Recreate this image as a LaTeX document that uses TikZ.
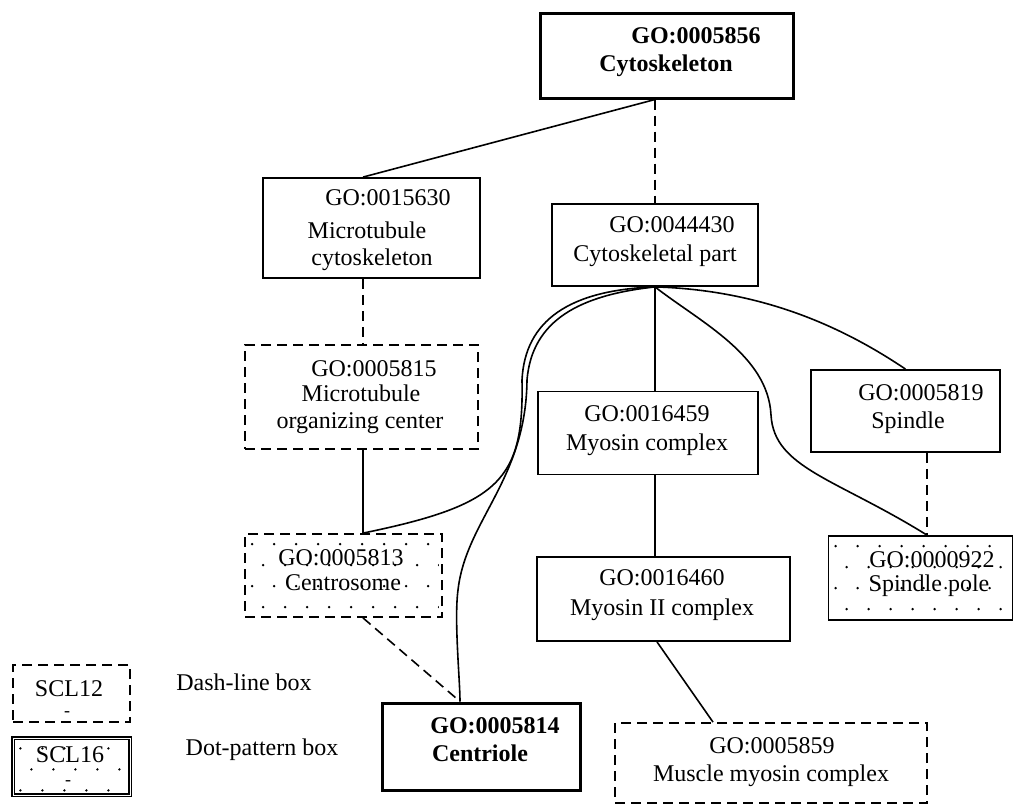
\documentclass[tikz,border=0pt]{standalone}
\usepackage{fontspec}
\setmainfont{Liberation Serif}
\usetikzlibrary{calc}
\begin{document}
\begin{tikzpicture}[x=1pt,y=-1pt,
  box/.style={draw, line width=1.8pt, rectangle, inner sep=0pt, fill=white},
  sz/.style 2 args={minimum width=#1pt, minimum height=#2pt},
  thickbox/.style={box, line width=3pt},
  dashbox/.style={box, dash pattern=on 10pt off 6pt},
  txt/.style={inner sep=0pt, anchor=base, font=\fontsize{24}{28}\selectfont},
  btxt/.style={inner sep=0pt, anchor=base, font=\fontsize{24}{28}\selectfont\bfseries},
  link/.style={line width=1.6pt},
  dlink/.style={line width=1.6pt, dash pattern=on 10pt off 6pt}]
\useasboundingbox (0,0) rectangle (1015,806);

% boxes
\node[thickbox, sz={253}{85}] (cs)   at (666.5,55.5) {};
\node[box,      sz={217}{100}] (mt)  at (371.5,228) {};
\node[box,      sz={206}{82}] (cp)   at (655,245) {};
\node[dashbox,  sz={233}{104}] (moc) at (361.5,397) {};
\node[box,      sz={220}{83}] (myo)  at (648,433) {};
\node[box,      sz={189}{82}] (sp)   at (905.5,411) {};
\node[dashbox,  sz={197}{83}] (cen)  at (343.5,575.5) {};
\node[box,      sz={253}{84}] (myo2) at (663.5,599) {};
\node[box,      sz={184}{84}] (spp)  at (920.5,578) {};
\node[thickbox, sz={198}{87}] (ctr)  at (481,746.5) {};
\node[dashbox,  sz={312}{80}] (mm)   at (771,763) {};
\node[dashbox,  sz={117}{57}] (l1)   at (71.5,693.5) {};
\node[box, line width=1.2pt, double, double distance=1pt, sz={117}{57}] (l2) at (71.5,766.5) {};

% connectors
\draw[link]  ([xshift=-11.5pt]cs.south) -- ([xshift=-8.5pt]mt.north);
\draw[dlink] ([xshift=-11.5pt]cs.south) -- (cp.north);
\draw[dlink] ([xshift=-8.5pt]mt.south) -- ([xshift=1.5pt]moc.north);
\draw[link]  ([xshift=1.5pt]moc.south) -- ([xshift=19.5pt]cen.north);
\draw[dlink] ([xshift=19.5pt]cen.south) -- ([xshift=-21pt]ctr.north);
\draw[link]  (cp.south) -- ([xshift=7pt]myo.north);
\draw[link]  ([xshift=7pt]myo.south) -- ([xshift=-8.5pt]myo2.north);
\draw[link]  ([xshift=-6.5pt]myo2.south) -- ([xshift=-58pt]mm.north);
\draw[dlink] ([xshift=21.5pt]sp.south) -- ([xshift=6.5pt]spp.north);
\draw[link] (cp.south) .. controls (570,290) and (525,320) .. (522,380)
  .. controls (524,480) and (500,505) .. ([xshift=19.5pt]cen.north);
\draw[link] (cp.south) .. controls (580,295) and (532,320) .. (527,380)
  .. controls (526,480) and (466,520) .. (458,590)
  .. controls (454,620) and (460,680) .. ([xshift=-21pt]ctr.north);
\draw[link] (cp.south) .. controls (700,322) and (768,355) .. (771,415)
  .. controls (774,468) and (835,478) .. ([xshift=6.5pt]spp.north);
\draw[link] (cp.south) .. controls (760,290) and (840,325) .. (sp.north);

% dot patterns
\foreach \b in {cen,spp,l2}{
  \begin{scope}
    \clip ([shift={(4,4)}]\b.north west) rectangle ([shift={(-4,-4)}]\b.south east);
    \begin{scope}[shift={(\b.north west)}]
      \foreach \r in {0,...,3}{
        \foreach \c in {0,...,9}{
          \fill ({8+\c*22+mod(\r,2)*11}, {11+\r*21}) circle[radius=1.3pt];
        }
      }
    \end{scope}
  \end{scope}
}

% texts
\node[btxt] (t1a) at (696,43) {GO:0005856};
\node[btxt] (t1b) at (666,71) {Cytoskeleton};
\node[txt] (t2a) at (388,205) {GO:0015630};
\node[txt] (t2b) at (367,238) {Microtubule};
\node[txt] (t2c) at (372,265) {cytoskeleton};
\node[txt] (t3a) at (672,232) {GO:0044430};
\node[txt] (t3b) at (655,261) {Cytoskeletal part};
\node[txt] (t4a) at (374,376) {GO:0005815};
\node[txt] (t4b) at (361,401) {Microtubule};
\node[txt] (t4c) at (360,428) {organizing center};
\node[txt] (t5a) at (647,421) {GO:0016459};
\node[txt] (t5b) at (647,450) {Myosin complex};
\node[txt] (t6a) at (921,400) {GO:0005819};
\node[txt] (t6b) at (908,428) {Spindle};
\node[txt] (t7a) at (341,565) {GO:0005813};
\node[txt] (t7b) at (343,590) {Centrosome};
\node[txt] (t8a) at (662,585) {GO:0016460};
\node[txt] (t8b) at (662,615) {Myosin II complex};
\node[txt] (t9a) at (932,567) {GO:0000922};
\node[txt] (t9b) at (929,591) {Spindle pole};
\node[btxt] (t10a) at (495,733) {GO:0005814};
\node[btxt] (t10b) at (480,761) {Centriole};
\node[txt] (t11a) at (772,753) {GO:0005859};
\node[txt] (t11b) at (771,781) {Muscle myosin complex};
\node[txt] (l1a) at (69,696) {SCL12};
\node[txt, font=\fontsize{18}{20}\selectfont] (l1b) at (67,716) {-};
\node[txt] (l2a) at (70,762) {SCL16};
\node[txt, font=\fontsize{18}{20}\selectfont] (l2b) at (68,785) {-};
\node[txt] (k1) at (244,690) {Dash-line box};
\node[txt] (k2) at (262,755) {Dot-pattern box};
\end{tikzpicture}
\end{document}
